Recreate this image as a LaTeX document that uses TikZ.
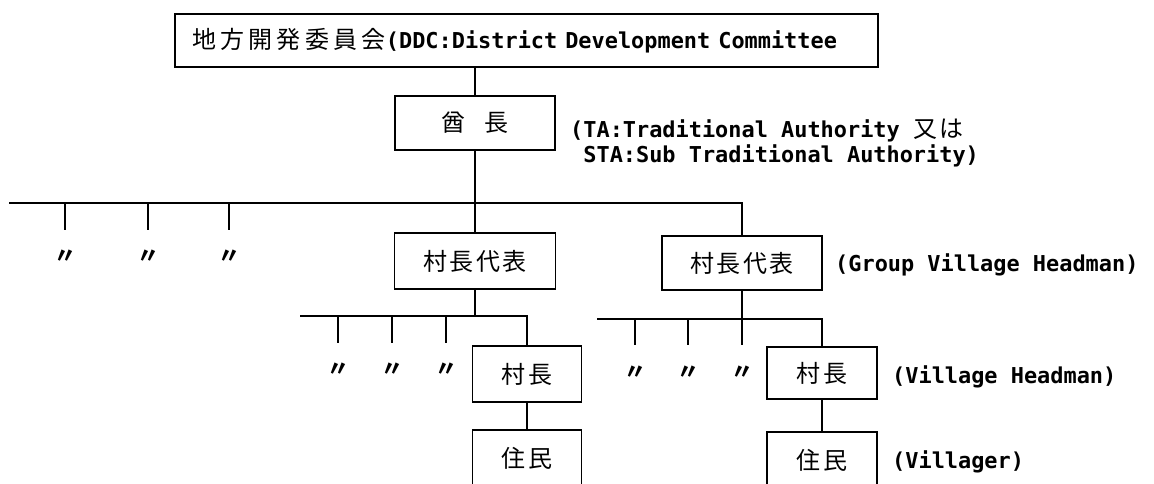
\documentclass[tikz,border=0pt]{standalone}
\usepackage{fontspec}
\setmainfont{DejaVu Sans Mono}[BoldFont={DejaVu Sans Mono Bold}]
\newfontfamily\jp[LetterSpace=10]{Noto Sans CJK JP}
\newfontfamily\jpwide[LetterSpace=18]{Noto Sans CJK JP}
\newfontfamily\jpd{Noto Sans CJK JP}
\newcommand\lat{\rmfamily\bfseries\fontsize{21.9pt}{25pt}\selectfont}
\newcommand\cj{\jp\mdseries\fontsize{24pt}{28pt}\selectfont}
\begin{document}
\begin{tikzpicture}[x=1pt,y=-1pt,
  box/.style={draw, line width=1.5pt, inner sep=0pt, font=\cj},
  lbl/.style={anchor=base west, inner sep=0pt, font=\lat},
  ln/.style={line width=1.6pt},
  ditto/.style={inner sep=0pt, font={\jpd\bfseries\fontsize{22pt}{24pt}\selectfont}}]
\useasboundingbox (0,0) rectangle (1154,484);
\clip (0,0) rectangle (1154,484);
\fill[white] (0,0) rectangle (1154,484);

% boxes
\node[box, minimum width=703pt, minimum height=53pt, text width=669pt, inner xsep=17pt, align=left] (ddc) at (526.5,40.5)
  {{\jpwide\fontsize{24pt}{28pt}\selectfont 地方開発委員会}{\lat (DDC:District Development Committee}};
\node[box, minimum width=160pt, minimum height=54pt] (chief) at (475,123) {酋\hspace{20pt}長};
\node[lbl] (tal1) at (570,138) {(TA:Traditional Authority {\cj 又は}};
\node[lbl] (tal2) at (570,163) {~STA:Sub Traditional Authority)};

\node[box, minimum width=161pt, minimum height=56pt] (gvh1) at (475,261) {村長代表};
\node[box, minimum width=160pt, minimum height=54pt] (gvh2) at (742,263) {村長代表};
\node[lbl] (gvhl) at (835,271) {(Group Village Headman)};

\node[box, minimum width=109pt, minimum height=56pt] (v1) at (527,374) {村長};
\node[box, minimum width=110pt, minimum height=52pt] (v2) at (822,373) {村長};
\node[lbl] (vl) at (892,383) {(Village Headman)};
\node[box, minimum width=109pt, minimum height=56pt] (r1) at (527,458) {住民};
\node[box, minimum width=110pt, minimum height=56pt] (r2) at (822,460) {住民};
\node[lbl] (rl) at (892,468) {(Villager)};

% bus coordinates
\coordinate (busL) at (9,203);
\coordinate (b2L) at (300,316);
\coordinate (b3L) at (597,319);
\coordinate (g2end) at (742,345);

% connectors
\draw[ln] (chief.north) -- (chief.north |- ddc.south);
\draw[ln] (chief.south) -- (gvh1.north);
\draw[ln] (busL) -- (busL -| gvh2.north) -- (gvh2.north);
\draw[ln] (gvh1.south) -- (gvh1.south |- b2L);
\draw[ln] (b2L) -- (b2L -| v1.north) -- (v1.north);
\draw[ln] (gvh2.south) -- (g2end);
\draw[ln] (b3L) -- (b3L -| v2.north) -- (v2.north);
\draw[ln] (v1.south) -- (r1.north);
\draw[ln] (v2.south) -- (r2.north);

% ticks and ditto marks
\foreach \x [count=\i] in {65,148,229} {
  \coordinate (ka\i) at (\x,203); \coordinate (kb\i) at (\x,230);
  \draw[ln] (ka\i) -- (kb\i);
  \node[ditto] (da\i) at (\x,257) {〃};
}
\foreach \x [count=\i] in {338,392,446} {
  \coordinate (la\i) at (\x,316); \coordinate (lb\i) at (\x,343);
  \draw[ln] (la\i) -- (lb\i);
  \node[ditto] (db\i) at (\x,370) {〃};
}
\foreach \x [count=\i] in {635,688} {
  \coordinate (ma\i) at (\x,319); \coordinate (mb\i) at (\x,345);
  \draw[ln] (ma\i) -- (mb\i);
  \node[ditto] (dc\i) at (\x,373) {〃};
}
\node[ditto] (dc3) at (742,373) {〃};
\end{tikzpicture}
\end{document}
